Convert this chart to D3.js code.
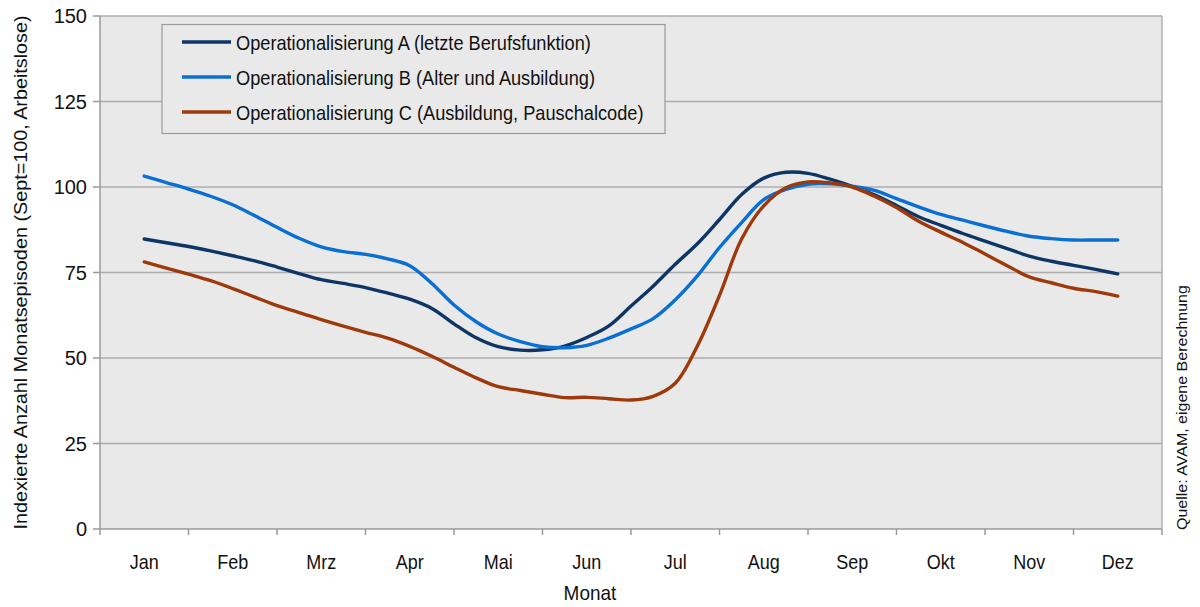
<!DOCTYPE html>
<html>
<head>
<meta charset="utf-8">
<script src="https://cdn.jsdelivr.net/npm/d3@7/dist/d3.min.js"></script>
<style>
  html, body { margin: 0; padding: 0; background: #ffffff; }
  svg { display: block; font-family: "Liberation Sans", Arial, sans-serif; }
</style>
</head>
<body>
<svg id="chart" width="1200" height="607"></svg>
<script>
// Month labels on the category axis
const months = ["Jan", "Feb", "Mrz", "Apr", "Mai", "Jun", "Jul", "Aug", "Sep", "Okt", "Nov", "Dez"];
// Y axis tick values
const yTicks = [0, 25, 50, 75, 100, 125, 150];
// Four observations per month, from January to December
const stepsPerMonth = 4;

const seriesA = [84.8, 83.7, 82.6, 81.3, 79.9, 78.4, 76.6, 74.7, 72.9, 71.8, 70.6, 69.0, 67.2,
  64.5, 60.0, 55.9, 53.3, 52.3, 52.4, 53.5, 56.0, 59.4, 65.2, 71.0, 77.4, 83.4, 90.5, 97.8,
  102.6, 104.3, 104.0, 102.3, 100.2, 97.7, 94.6, 91.3, 88.8, 86.4, 84.2, 82.0, 79.8, 78.3, 77.1, 75.9, 74.6];
const seriesB = [103.2, 101.3, 99.4, 97.3, 94.8, 91.6, 88.2, 85.0, 82.5, 81.1, 80.3, 79.0, 77.0,
  71.8, 65.5, 60.6, 57.0, 54.8, 53.3, 53.0, 53.7, 55.8, 58.5, 61.5, 67.0, 74.0, 82.3, 89.6,
  96.3, 99.3, 100.8, 100.9, 100.2, 99.0, 96.6, 94.2, 92.0, 90.3, 88.6, 87.0, 85.6, 84.9, 84.5, 84.5, 84.5];
const seriesC = [78.1, 76.3, 74.5, 72.6, 70.3, 67.8, 65.3, 63.3, 61.2, 59.3, 57.5, 55.8, 53.4,
  50.5, 47.3, 44.2, 41.6, 40.5, 39.4, 38.4, 38.5, 38.1, 37.7, 38.8, 42.6, 53.5, 68.3, 84.8,
  94.5, 99.8, 101.5, 101.2, 100.0, 97.3, 94.0, 90.0, 86.8, 83.8, 80.4, 77.0, 73.7, 72.0, 70.4, 69.4, 68.1];

const seriesNames = [
  "Operationalisierung A (letzte Berufsfunktion)",
  "Operationalisierung B (Alter und Ausbildung)",
  "Operationalisierung C (Ausbildung, Pauschalcode)"
];
const seriesColors = ["#0d3666", "#0a6fd2", "#9e390b"];
const seriesData = [seriesA, seriesB, seriesC];

const svg = d3.select("#chart");
const plot = { left: 100, right: 1162, top: 16, bottom: 529 };
const axisColor = "#9a9a9a";
const textColor = "#111";

const band = d3.scaleBand().domain(months).range([plot.left, plot.right]).padding(0);
const y = d3.scaleLinear().domain([0, 150]).range([plot.bottom, plot.top]);
// Continuous position: 0 = centre of January, 11 = centre of December
const xPos = d3.scaleLinear()
  .domain([0, months.length - 1])
  .range([band("Jan") + band.bandwidth() / 2, band("Dez") + band.bandwidth() / 2]);

// Horizontal label in a slightly condensed face
function label(parent, x, yy, txt, opts = {}) {
  const sx = opts.scaleX ?? 0.9;
  return parent.append("text")
    .attr("transform", `translate(${x},${yy}) scale(${sx},1)`)
    .attr("text-anchor", opts.anchor || "start")
    .attr("font-size", opts.size || 20)
    .attr("fill", textColor)
    .text(txt);
}

// Plot background
svg.append("rect")
  .attr("x", plot.left).attr("y", plot.top)
  .attr("width", plot.right - plot.left).attr("height", plot.bottom - plot.top)
  .attr("fill", "#e9e9e9");

// Horizontal grid lines
svg.append("g").selectAll("line")
  .data(yTicks.filter(t => t > 0))
  .join("line")
  .attr("x1", plot.left).attr("x2", plot.right)
  .attr("y1", d => y(d)).attr("y2", d => y(d))
  .attr("stroke", "#acacac").attr("stroke-width", 1.5);

// Left and right frame
svg.append("line").attr("x1", plot.left).attr("x2", plot.left)
  .attr("y1", plot.top).attr("y2", plot.bottom)
  .attr("stroke", axisColor).attr("stroke-width", 1.5);
svg.append("line").attr("x1", plot.right).attr("x2", plot.right)
  .attr("y1", plot.top).attr("y2", plot.bottom)
  .attr("stroke", "#b0b0b0").attr("stroke-width", 1.5);

// Y axis tick marks and labels
const yAxis = svg.append("g");
yAxis.selectAll("line")
  .data(yTicks)
  .join("line")
  .attr("x1", plot.left - 7).attr("x2", plot.left)
  .attr("y1", d => y(d)).attr("y2", d => y(d))
  .attr("stroke", axisColor).attr("stroke-width", 1.5);
yTicks.forEach(t => label(yAxis, 87, y(t) + 7, String(t), { anchor: "end", scaleX: 1 }));

// X axis: tick marks on category boundaries, labels centred in each month
const xAxisG = svg.append("g");
xAxisG.append("line")
  .attr("x1", plot.left).attr("x2", plot.right)
  .attr("y1", plot.bottom).attr("y2", plot.bottom)
  .attr("stroke", axisColor).attr("stroke-width", 1.5);
const boundaries = months.map(m => band(m)).concat([plot.right]);
xAxisG.selectAll("line.tick")
  .data(boundaries)
  .join("line")
  .attr("class", "tick")
  .attr("x1", d => d).attr("x2", d => d)
  .attr("y1", plot.bottom).attr("y2", plot.bottom + 6)
  .attr("stroke", axisColor).attr("stroke-width", 1.5);
months.forEach(m => label(xAxisG, band(m) + band.bandwidth() / 2, 569, m, { anchor: "middle" }));

// Axis titles
label(svg, 590, 600, "Monat", { anchor: "middle", scaleX: 0.95 });
svg.append("text")
  .attr("transform", `translate(27,${(plot.top + plot.bottom) / 2}) rotate(-90) scale(0.99,0.9)`)
  .attr("text-anchor", "middle")
  .attr("font-size", 20).attr("fill", textColor)
  .text("Indexierte Anzahl Monatsepisoden (Sept=100, Arbeitslose)");
svg.append("text")
  .attr("transform", `translate(1187,${plot.bottom + 1}) rotate(-90) scale(1,0.9)`)
  .attr("text-anchor", "start")
  .attr("font-size", 16).attr("fill", textColor)
  .text("Quelle: AVAM, eigene Berechnung");

// Lines
const line = d3.line()
  .x((d, i) => xPos(i / stepsPerMonth))
  .y(d => y(d))
  .curve(d3.curveCatmullRom.alpha(0.5));

svg.append("g").selectAll("path")
  .data(seriesData)
  .join("path")
  .attr("d", d => line(d))
  .attr("fill", "none")
  .attr("stroke", (d, i) => seriesColors[i])
  .attr("stroke-width", 3.4)
  .attr("stroke-linejoin", "round")
  .attr("stroke-linecap", "round");

// Legend
const legend = svg.append("g");
legend.append("rect")
  .attr("x", 162).attr("y", 24.5).attr("width", 503).attr("height", 109)
  .attr("fill", "#e9e9e9").attr("stroke", axisColor).attr("stroke-width", 1.2);
seriesNames.forEach((name, i) => {
  const rowY = 42 + i * 35;
  legend.append("line")
    .attr("x1", 182).attr("x2", 231).attr("y1", rowY).attr("y2", rowY)
    .attr("stroke", seriesColors[i]).attr("stroke-width", 3.4);
  label(legend, 236, rowY + 8, name, { scaleX: 0.91 });
});
</script>
</body>
</html>
